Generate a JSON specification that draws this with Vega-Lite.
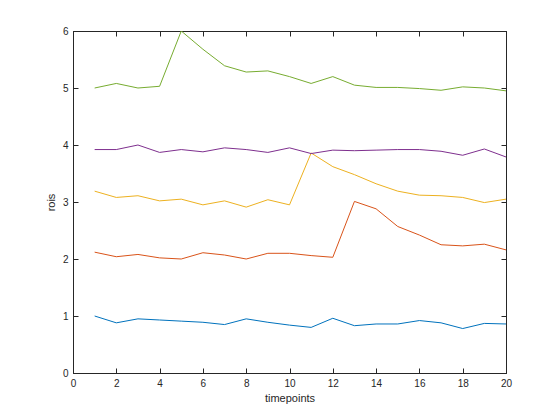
{
  "$schema": "https://vega.github.io/schema/vega-lite/v6.json",
  "width": 433,
  "height": 342,
  "autosize": {"type": "none"},
  "padding": {"left": 73, "top": 31, "right": 54, "bottom": 47},
  "background": "white",
  "config": {
    "view": {"stroke": "#262626", "strokeWidth": 1},
    "font": "Liberation Sans",
    "axis": {"labelFont": "Liberation Sans", "titleFont": "Liberation Sans", "labelFontSize": 10, "titleFontSize": 11, "titleFontWeight": "normal", "labelColor": "#262626", "titleColor": "#262626", "domainColor": "#262626", "tickColor": "#262626", "grid": false, "tickSize": -5, "labelPadding": 10}
  },
  "data": {"values": [
    {"t":1,"s":"a","v":1.0},{"t":2,"s":"a","v":0.88},{"t":3,"s":"a","v":0.95},{"t":4,"s":"a","v":0.93},{"t":5,"s":"a","v":0.91},{"t":6,"s":"a","v":0.89},{"t":7,"s":"a","v":0.85},{"t":8,"s":"a","v":0.95},{"t":9,"s":"a","v":0.89},{"t":10,"s":"a","v":0.84},{"t":11,"s":"a","v":0.80},{"t":12,"s":"a","v":0.96},{"t":13,"s":"a","v":0.83},{"t":14,"s":"a","v":0.86},{"t":15,"s":"a","v":0.86},{"t":16,"s":"a","v":0.92},{"t":17,"s":"a","v":0.88},{"t":18,"s":"a","v":0.78},{"t":19,"s":"a","v":0.87},{"t":20,"s":"a","v":0.86},
    {"t":1,"s":"b","v":2.12},{"t":2,"s":"b","v":2.04},{"t":3,"s":"b","v":2.08},{"t":4,"s":"b","v":2.02},{"t":5,"s":"b","v":2.0},{"t":6,"s":"b","v":2.11},{"t":7,"s":"b","v":2.07},{"t":8,"s":"b","v":2.0},{"t":9,"s":"b","v":2.1},{"t":10,"s":"b","v":2.1},{"t":11,"s":"b","v":2.06},{"t":12,"s":"b","v":2.03},{"t":13,"s":"b","v":3.01},{"t":14,"s":"b","v":2.88},{"t":15,"s":"b","v":2.57},{"t":16,"s":"b","v":2.42},{"t":17,"s":"b","v":2.25},{"t":18,"s":"b","v":2.23},{"t":19,"s":"b","v":2.26},{"t":20,"s":"b","v":2.16},
    {"t":1,"s":"c","v":3.19},{"t":2,"s":"c","v":3.08},{"t":3,"s":"c","v":3.11},{"t":4,"s":"c","v":3.02},{"t":5,"s":"c","v":3.05},{"t":6,"s":"c","v":2.95},{"t":7,"s":"c","v":3.02},{"t":8,"s":"c","v":2.91},{"t":9,"s":"c","v":3.04},{"t":10,"s":"c","v":2.95},{"t":11,"s":"c","v":3.86},{"t":12,"s":"c","v":3.62},{"t":13,"s":"c","v":3.48},{"t":14,"s":"c","v":3.32},{"t":15,"s":"c","v":3.19},{"t":16,"s":"c","v":3.12},{"t":17,"s":"c","v":3.11},{"t":18,"s":"c","v":3.08},{"t":19,"s":"c","v":2.99},{"t":20,"s":"c","v":3.05},
    {"t":1,"s":"d","v":3.92},{"t":2,"s":"d","v":3.92},{"t":3,"s":"d","v":4.0},{"t":4,"s":"d","v":3.87},{"t":5,"s":"d","v":3.92},{"t":6,"s":"d","v":3.88},{"t":7,"s":"d","v":3.95},{"t":8,"s":"d","v":3.92},{"t":9,"s":"d","v":3.87},{"t":10,"s":"d","v":3.95},{"t":11,"s":"d","v":3.85},{"t":12,"s":"d","v":3.91},{"t":13,"s":"d","v":3.9},{"t":14,"s":"d","v":3.91},{"t":15,"s":"d","v":3.92},{"t":16,"s":"d","v":3.92},{"t":17,"s":"d","v":3.89},{"t":18,"s":"d","v":3.82},{"t":19,"s":"d","v":3.93},{"t":20,"s":"d","v":3.79},
    {"t":1,"s":"e","v":5.0},{"t":2,"s":"e","v":5.08},{"t":3,"s":"e","v":5.0},{"t":4,"s":"e","v":5.03},{"t":5,"s":"e","v":6.0},{"t":6,"s":"e","v":5.68},{"t":7,"s":"e","v":5.39},{"t":8,"s":"e","v":5.28},{"t":9,"s":"e","v":5.3},{"t":10,"s":"e","v":5.2},{"t":11,"s":"e","v":5.08},{"t":12,"s":"e","v":5.2},{"t":13,"s":"e","v":5.05},{"t":14,"s":"e","v":5.01},{"t":15,"s":"e","v":5.01},{"t":16,"s":"e","v":4.99},{"t":17,"s":"e","v":4.96},{"t":18,"s":"e","v":5.02},{"t":19,"s":"e","v":5.0},{"t":20,"s":"e","v":4.95}
  ]},
  "resolve": {"axis": {"x": "independent", "y": "independent"}},
  "layer": [
    {
      "mark": {"type": "line", "strokeWidth": 1, "clip": true},
      "encoding": {
        "x": {"field": "t", "type": "quantitative", "scale": {"domain": [0, 20], "nice": false, "zero": false},
              "axis": {"title": "timepoints", "values": [0,2,4,6,8,10,12,14,16,18,20], "format": "d", "titlePadding": 4, "labelFlush": false}},
        "y": {"field": "v", "type": "quantitative", "scale": {"domain": [0, 6], "nice": false},
              "axis": {"title": "rois", "values": [0,1,2,3,4,5,6], "format": "d", "titlePadding": 6}},
        "color": {"field": "s", "type": "nominal", "legend": null,
                  "scale": {"domain": ["a","b","c","d","e"], "range": ["#0072BD","#D95319","#EDB120","#7E2F8E","#77AC30"]}}
      }
    },
    {
      "mark": {"type": "line", "strokeOpacity": 0, "clip": true},
      "encoding": {
        "x": {"field": "t", "type": "quantitative", "axis": {"orient": "top", "title": null, "labels": false, "values": [0,2,4,6,8,10,12,14,16,18,20]}},
        "y": {"field": "v", "type": "quantitative", "axis": {"orient": "right", "title": null, "labels": false, "values": [0,1,2,3,4,5,6]}},
        "detail": {"field": "s"}
      }
    }
  ]
}
